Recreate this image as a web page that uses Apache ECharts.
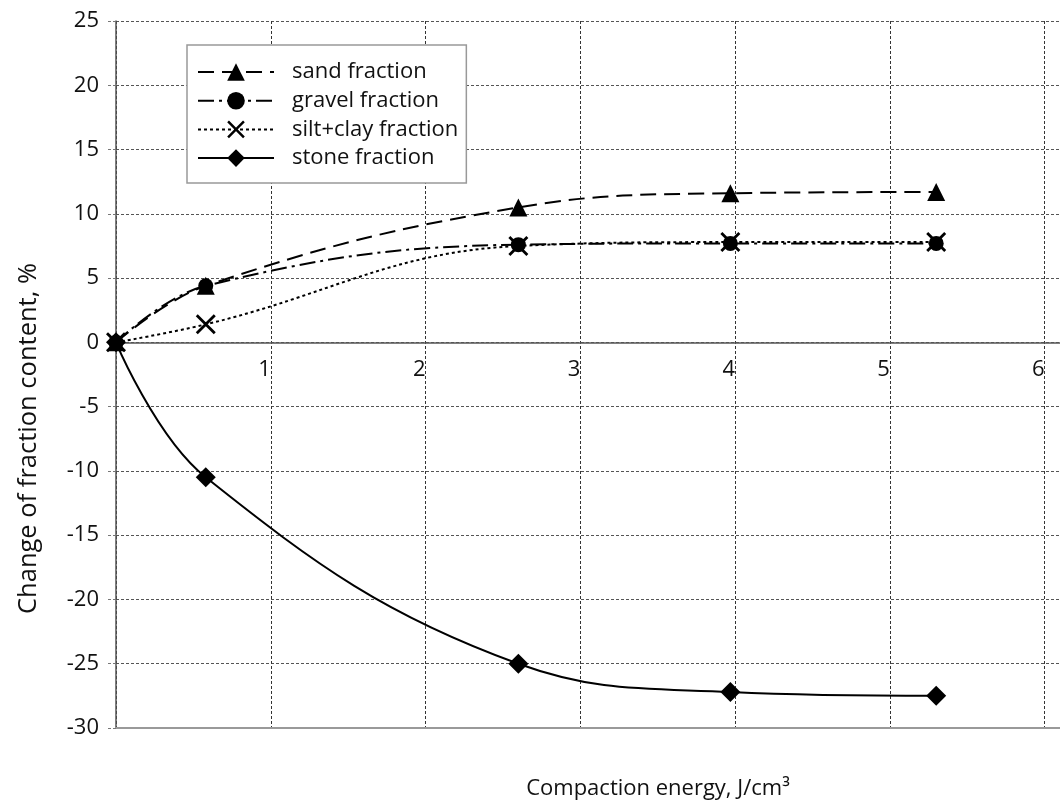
<!DOCTYPE html>
<html>
<head>
<meta charset="utf-8">
<script src="https://cdn.jsdelivr.net/npm/echarts@6/dist/echarts.min.js"></script>
<style>
  html, body { margin: 0; padding: 0; background: #fff; }
  #chart { width: 1060px; height: 806px; }
</style>
</head>
<body>
<div id="chart"></div>
<script>
// compaction energy, J/cm3
const energy = [0, 0.58, 2.6, 3.97, 5.3];
// change of fraction content, %
const sand = [0, 4.4, 10.5, 11.6, 11.7];
const gravel = [0, 4.4, 7.6, 7.7, 7.7];
const siltClay = [0, 1.4, 7.5, 7.8, 7.8];
const stone = [0, -10.5, -25, -27.2, -27.5];

const names = ['sand fraction', 'gravel fraction', 'silt+clay fraction', 'stone fraction'];

const font = '"Open Sans", "Noto Sans", sans-serif';
const crossPath = 'path://M0,1 L1,0 L10,9 L9,10 Z M9,0 L10,1 L1,10 L0,9 Z';

// grid geometry (px)
const gridTop = 21, gridBottom = 78, chartH = 806;
const yMin = -30, yMax = 25;
// distance from top edge to the zero line, used to drop the labelled x axis onto y = 0
const zeroOffset = (chartH - gridTop - gridBottom) * yMax / (yMax - yMin);

function pairs(ys) {
  return energy.map((x, i) => [x, ys[i]]);
}

function makeSeries(name, ys, symbol, size, dash) {
  return {
    name: name,
    type: 'line',
    data: pairs(ys),
    xAxisIndex: 0,
    smooth: 0.4,
    symbol: symbol,
    symbolSize: size,
    showAllSymbol: true,
    itemStyle: { color: '#000' },
    lineStyle: { color: '#000', width: 2, type: dash },
    emphasis: { disabled: true },
    z: 3
  };
}

const chart = echarts.init(document.getElementById('chart'), null, { renderer: 'canvas' });

let option = {
  animation: false,
  backgroundColor: '#fff',
  textStyle: { fontFamily: font },
  grid: { left: 116, top: gridTop, right: 0, bottom: gridBottom, containLabel: false },
  legend: {
    orient: 'vertical',
    left: 187,
    top: 45,
    padding: [16, 8, 14, 10],
    itemWidth: 76,
    itemHeight: 22,
    itemGap: 6.7,
    borderColor: '#999',
    borderWidth: 1.5,
    backgroundColor: '#fff',
    textStyle: { fontFamily: font, fontSize: 22, color: '#111', lineHeight: 22, padding: [0, 0, 0, 13] },
    data: names
  },
  xAxis: [{
    type: 'value',
    position: 'top',
    offset: -zeroOffset,
    min: 0,
    max: 6.1,
    interval: 1,
    axisLine: { onZero: false, lineStyle: { color: '#555', width: 1.5 } },
    axisTick: { show: false },
    axisLabel: {
      inside: true,
      fontFamily: font, fontSize: 22, color: '#111', align: 'right', margin: 16,
      formatter: v => (v === 0 ? '' : String(v))
    },
    splitLine: { show: true, lineStyle: { color: '#333', type: [3, 2], width: 1 } }
  }, {
    type: 'value',
    position: 'bottom',
    min: 0,
    max: 6.1,
    axisLine: { onZero: false, lineStyle: { color: '#999', width: 2 } },
    axisTick: { show: false },
    axisLabel: { show: false },
    splitLine: { show: false },
    name: 'Compaction energy, J/cm³',
    nameLocation: 'middle',
    nameGap: 50,
    nameTextStyle: { fontFamily: font, fontSize: 22, color: '#111', padding: [0, 0, 0, 140] }
  }],
  yAxis: {
    type: 'value',
    min: yMin,
    max: yMax,
    interval: 5,
    axisLine: { show: true, onZero: false, lineStyle: { color: '#555', width: 1.5 } },
    axisTick: { show: true, length: 9, lineStyle: { color: '#777', type: [3, 2] } },
    axisLabel: { fontFamily: font, fontSize: 22, color: '#111', margin: 17 },
    splitLine: { show: true, lineStyle: { color: '#555', type: [3, 2], width: 1 } },
    name: 'Change of fraction content, %',
    nameLocation: 'middle',
    nameGap: 74,
    nameTextStyle: { fontFamily: font, fontSize: 25.5, color: '#111', padding: [0, 128, 0, 0] }
  },
  series: [
    makeSeries(names[0], sand, 'triangle', 18, [16, 8]),
    makeSeries(names[1], gravel, 'circle', 15, [16, 5, 3, 5]),
    makeSeries(names[2], siltClay, crossPath, 20, [3, 3]),
    makeSeries(names[3], stone, 'diamond', 20, 'solid')
  ]
};

chart.setOption(option);
</script>
</body>
</html>
